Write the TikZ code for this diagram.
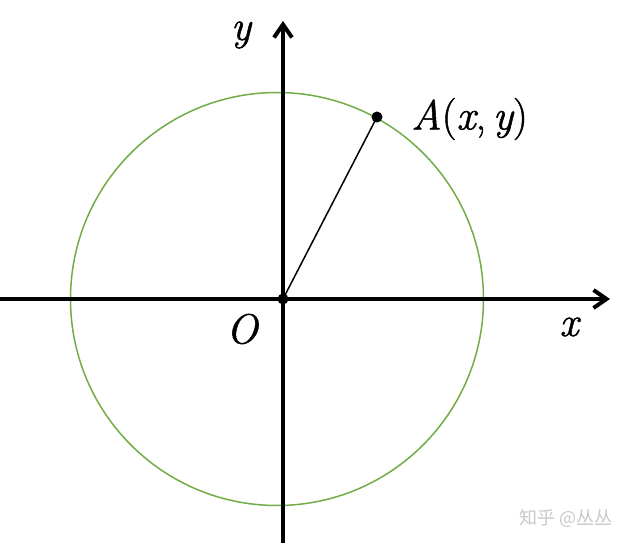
\documentclass[tikz,border=0pt]{standalone}
\usepackage{fontspec}
\newfontfamily\lblfont{Latin Modern Roman}[FakeBold=1.2]
\newfontfamily\cjk{Noto Sans CJK SC}
\usetikzlibrary{arrows.meta}

\definecolor{circgreen}{RGB}{112,173,71}
\definecolor{markgray}{RGB}{200,200,200}

\begin{document}
\begin{tikzpicture}[x=1pt,y=1pt,
    axis/.style={line width=4pt, -{Straight Barb[length=13pt,width=18pt,line width=4pt]}},
    lbl/.style={font=\lblfont\fontsize{42}{44}\selectfont\itshape, inner sep=0pt}]
	\useasboundingbox (-283,-244) rectangle (349,299);
	
	% Define nodes
	\coordinate (O) at (0,0);
	\coordinate (C) at (-6,0);
	\coordinate (A) at (94,182);
	\coordinate (xl) at (-283,0);
	\coordinate (xr) at (327,0);
	\coordinate (yb) at (0,-244);
	\coordinate (yt) at (0,278);
	
	% Circle and axes
	\draw[circgreen, line width=1.5pt] (C) circle (206.5);
	\draw[axis] (xl) -- (xr);
	\draw[axis] (yb) -- (yt);
	
	% Radius to A
	\draw[line width=1.5pt] (O) -- (A);
	\fill (O) circle (5.5);
	\fill (A) circle (5.5);
	
	% Labels
	\node[lbl] (ylab) at (-42,264) {y};
	\node[lbl] (olab) at (-41,-30) {O};
	\node[lbl] (xlab) at (286,-28) {x};
	\node[lbl, anchor=west] (alab) at (128,180) {A\upshape(\itshape x\upshape,\,\itshape y\upshape)};
	\node[font=\cjk\fontsize{18}{20}\selectfont, text=markgray, inner sep=0pt] (mark) at (283,-219) {知乎 @丛丛};
\end{tikzpicture}
\end{document}
